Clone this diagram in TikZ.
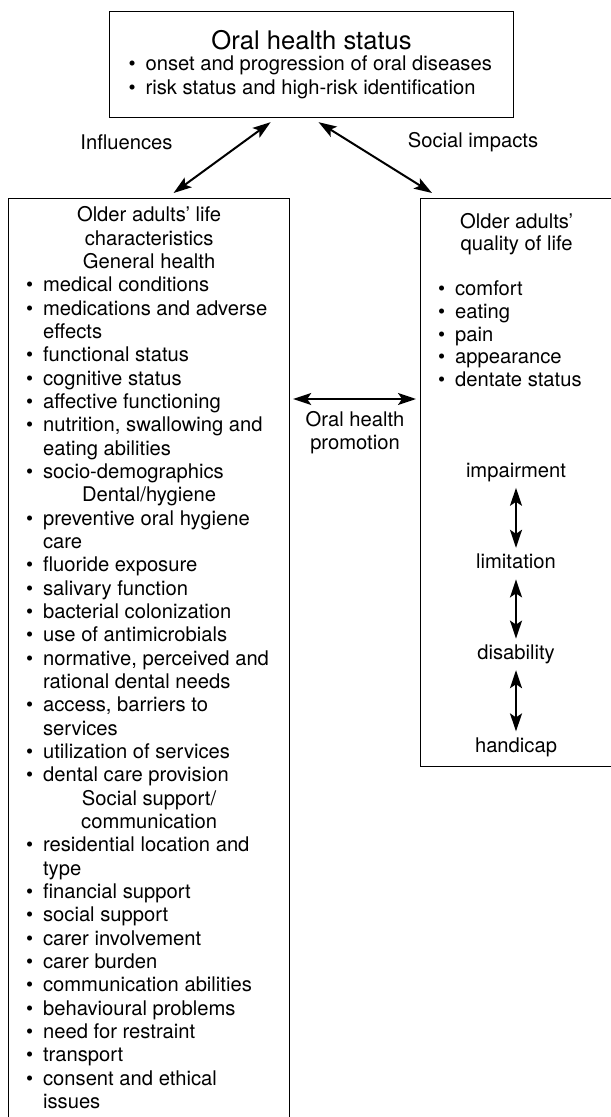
\documentclass[tikz,border=0pt]{standalone}
\usepackage{fontspec}
\setmainfont{TeX Gyre Heros}
\usetikzlibrary{arrows.meta,positioning}

\newlength\bulw
\setlength\bulw{10pt}
\newcommand\bul[1]{\par\hangindent=\bulw\hangafter=1\noindent
  \makebox[\bulw][l]{\hspace{1.5pt}\textbullet}#1\par}
\newcommand\head[1]{\par{\centering #1\par}}

\tikzset{
  txt/.style={font=\fontsize{10.1}{11.67}\selectfont},
  box/.style={draw, line width=0.6pt, inner xsep=7.25pt, inner ysep=4pt, txt},
  dbl/.style={{Stealth[length=9pt,width=6pt,inset=2pt]}-{Stealth[length=9pt,width=6pt,inset=2pt]},
    line width=1pt},
  stage/.style={txt, text height=7.3pt, text depth=2.1pt, inner sep=3pt},
}

\begin{document}
\begin{tikzpicture}[x=0.5pt, y=-0.5pt]
\useasboundingbox (0,0) rectangle (610,1117);

\node[box, inner xsep=0pt, anchor=north west] (status) at (109,11)
  {\parbox[c][45pt][t]{202pt}{\centering\vspace*{5.6pt}%
   {\fontsize{12.8}{14}\selectfont Oral health status\par}\vspace{-1.2pt}%
   \raggedright\leftskip=8pt
   \bul{onset and progression of oral diseases}
   \bul{risk status and high-risk identification}}};

\node[box, anchor=north west] (life) at (8,198)
  {\parbox[c][454pt][t]{126pt}{\raggedright
   \head{Older adults’ life\\characteristics\\General health}
   \bul{medical conditions}
   \bul{medications and adverse\newline effects}
   \bul{functional status}
   \bul{cognitive status}
   \bul{affective functioning}
   \bul{nutrition, swallowing and\newline eating abilities}
   \bul{socio-demographics}
   \head{Dental/hygiene}
   \bul{preventive oral hygiene\newline care}
   \bul{fluoride exposure}
   \bul{salivary function}
   \bul{bacterial colonization}
   \bul{use of antimicrobials}
   \bul{normative, perceived and\newline rational dental needs}
   \bul{access, barriers to\newline services}
   \bul{utilization of services}
   \bul{dental care provision}
   \head{Social support/\\communication}
   \bul{residential location and\newline type}
   \bul{financial support}
   \bul{social support}
   \bul{carer involvement}
   \bul{carer burden}
   \bul{communication abilities}
   \bul{behavioural problems}
   \bul{need for restraint}
   \bul{transport}
   \bul{consent and ethical\newline issues}}};

\node[box, anchor=north west, font=\fontsize{10.1}{11.3}\selectfont] (qol) at (420,198)
  {\parbox[c][276pt][t]{81.5pt}{\raggedright\vspace*{3.2pt}
   \head{Older adults’\\quality of life}
   \vspace{\baselineskip}
   \bul{comfort}
   \bul{eating}
   \bul{pain}
   \bul{appearance}
   \bul{dentate status}}};

\node[stage] (imp) at (516,472) {impairment};
\node[stage, below=30pt of imp] (lim) {limitation};
\node[stage, below=29.6pt of lim] (dis) {disability};
\node[stage, below=30.6pt of dis] (hand) {handicap};

\node[txt, align=center, anchor=north] (promo) at (355,404) {Oral health\\promotion};
\node[txt] (infl) at (126.5,142) {Influences};
\node[txt] (soc) at (473,142) {Social impacts};

\draw[dbl] ([xshift=-20.5pt,yshift=-2pt]status.south) -- ([xshift=12.25pt,yshift=2.5pt]life.north);
\draw[dbl] ([xshift=3.5pt,yshift=-2pt]status.south) -- ([xshift=6pt,yshift=2.5pt]qol.north west);
\draw[dbl, shorten <=1.5pt, shorten >=2pt] ([yshift=2.5pt]life.east |- promo.north)
  -- ([yshift=2.5pt]qol.west |- promo.north);
\draw[dbl] (imp) -- (lim);
\draw[dbl] (lim) -- (dis);
\draw[dbl] (dis) -- (hand);
\end{tikzpicture}
\end{document}
